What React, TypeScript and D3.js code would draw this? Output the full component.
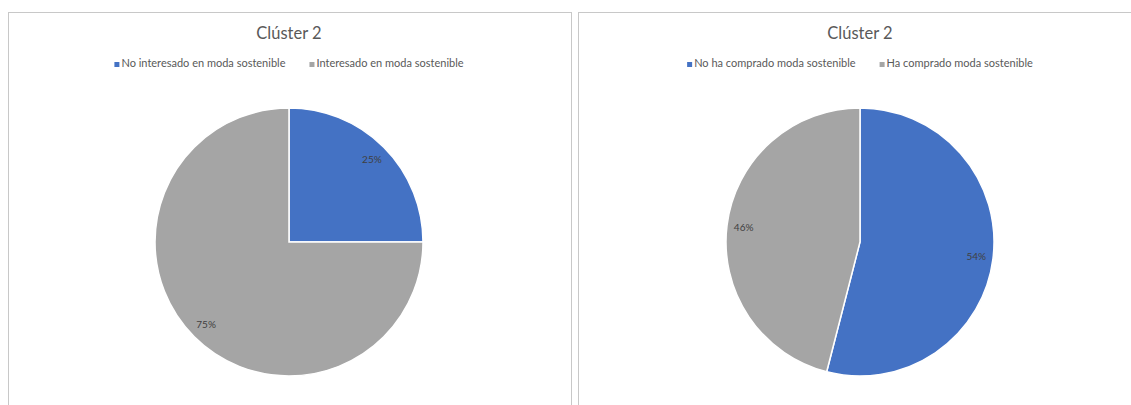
import React, { useEffect, useRef } from "react";
import * as d3 from "d3";

const titles = ["Clúster 2", "Clúster 2"];
const leftCategories = ["No interesado en moda sostenible", "Interesado en moda sostenible"];
const leftValues = [25, 75];
const rightCategories = ["No ha comprado moda sostenible", "Ha comprado moda sostenible"];
const rightValues = [54, 46];
const colors = ["#4472C4", "#A5A5A5"];

const W = 1131;
const H = 405;
const FONT = "Lato, 'Open Sans', sans-serif";

export default function App() {
  const ref = useRef<SVGSVGElement>(null);

  useEffect(() => {
    const svg = d3.select(ref.current);
    svg.selectAll("*").remove();

    const panels = [
      { x0: 8, x1: 571, title: titles[0], cats: leftCategories, vals: leftValues, cx: 289 },
      { x0: 578, x1: 1140, title: titles[1], cats: rightCategories, vals: rightValues, cx: 860 },
    ];

    panels.forEach((p) => {
      const g = svg.append("g");
      g.append("rect")
        .attr("x", p.x0 + 0.5)
        .attr("y", 12.5)
        .attr("width", p.x1 - p.x0)
        .attr("height", H)
        .attr("fill", "#fff")
        .attr("stroke", "#c8c8c8")
        .attr("stroke-width", 1);

      g.append("text")
        .attr("x", p.cx)
        .attr("y", 39)
        .attr("text-anchor", "middle")
        .attr("font-family", FONT)
        .attr("font-size", 16.5)
        .attr("fill", "#595959")
        .text(p.title);

      // legend
      const leg = g.append("g");
      const items = leg.selectAll("g").data(p.cats).join("g");
      items
        .append("rect")
        .attr("width", 5)
        .attr("height", 5)
        .attr("y", -5)
        .attr("fill", (_d, i) => colors[i]);
      const texts = items
        .append("text")
        .attr("x", 7)
        .attr("y", 0)
        .attr("font-family", FONT)
        .attr("font-size", 11)
        .attr("fill", "#595959")
        .text((d) => d);
      const widths: number[] = [];
      texts.each(function () {
        widths.push(7 + (this as SVGTextElement).getComputedTextLength());
      });
      const gap = 24;
      const total = d3.sum(widths) + gap * (widths.length - 1);
      let xx = p.cx - total / 2;
      items.attr("transform", (_d, i) => {
        const t = `translate(${xx},${67})`;
        xx += widths[i] + gap;
        return t;
      });

      // pie
      const R = 134;
      const pie = d3.pie<number>().sort(null).value((d) => d);
      const arcs = pie(p.vals);
      const arc = d3.arc<d3.PieArcDatum<number>>().innerRadius(0).outerRadius(R);
      const labelArc = d3.arc<d3.PieArcDatum<number>>().innerRadius(R * 0.875).outerRadius(R * 0.875);
      const pg = g.append("g").attr("transform", `translate(${p.cx},242)`);
      pg.selectAll("path")
        .data(arcs)
        .join("path")
        .attr("d", arc)
        .attr("fill", (_d, i) => colors[i])
        .attr("stroke", "#fff")
        .attr("stroke-width", 1.5);
      pg.selectAll("text")
        .data(arcs)
        .join("text")
        .attr("transform", (d) => `translate(${labelArc.centroid(d)})`)
        .attr("text-anchor", "middle")
        .attr("dy", "0.35em")
        .attr("font-family", FONT)
        .attr("font-size", 10)
        .attr("fill", "#404040")
        .text((d) => `${d.data}%`);
    });
  }, []);

  return (
    <svg
      ref={ref}
      width={W}
      height={H}
      style={{ position: "absolute", left: 0, top: 0, background: "#fff" }}
    />
  );
}
